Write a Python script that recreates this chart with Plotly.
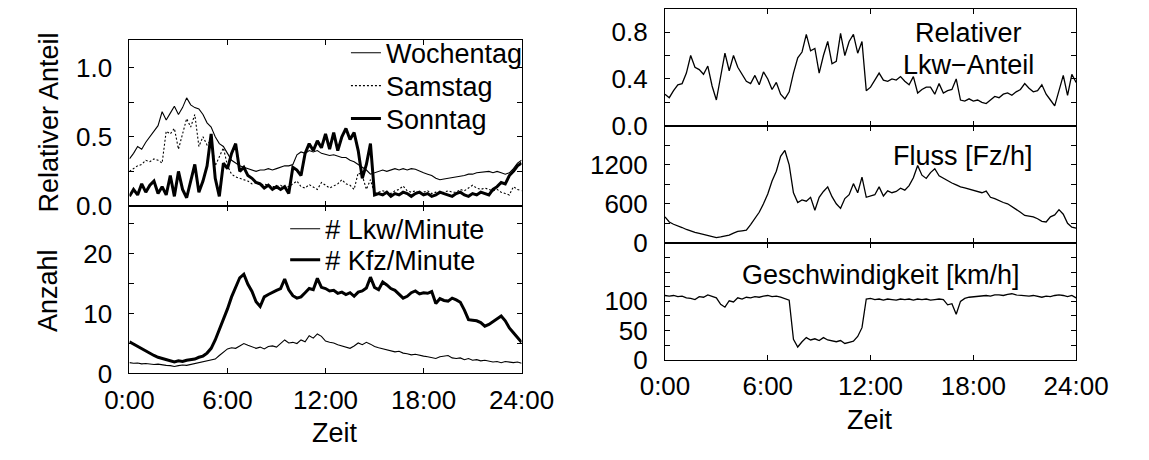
import numpy as np
import plotly.graph_objects as go

FONT = "Liberation Sans, Arial, Helvetica, sans-serif"

HOUR_TICKS = [0, 6, 12, 18, 24]
HOUR_LABELS = ["0:00", "6:00", "12:00", "18:00", "24:00"]

# ---- left top: relative truck share (15-min resolution, 0:00 .. 24:00) ----
wochentag = [0.34, 0.38, 0.43, 0.41, 0.46, 0.50, 0.54, 0.58, 0.68, 0.62, 0.67, 0.72,
             0.66, 0.71, 0.78, 0.73, 0.71, 0.70, 0.66, 0.60, 0.57, 0.50, 0.45, 0.43,
             0.38, 0.33, 0.31, 0.29, 0.28, 0.27, 0.26, 0.25, 0.26, 0.26, 0.27, 0.26,
             0.27, 0.28, 0.29, 0.29, 0.30, 0.37, 0.39, 0.38, 0.40, 0.39, 0.40, 0.38,
             0.37, 0.365, 0.37, 0.36, 0.35, 0.35, 0.33, 0.32, 0.30, 0.28, 0.26, 0.23,
             0.24, 0.25, 0.26, 0.25, 0.26, 0.27, 0.26, 0.27, 0.26, 0.27, 0.265, 0.25,
             0.24, 0.23, 0.22, 0.20, 0.19, 0.195, 0.20, 0.20, 0.21, 0.21, 0.22, 0.23,
             0.23, 0.24, 0.245, 0.25, 0.25, 0.24, 0.25, 0.24, 0.23, 0.24, 0.27, 0.31, 0.33]
samstag = [0.25, 0.27, 0.29, 0.30, 0.33, 0.32, 0.34, 0.33, 0.31, 0.54, 0.52, 0.56,
           0.41, 0.52, 0.63, 0.57, 0.66, 0.43, 0.50, 0.44, 0.48, 0.29, 0.36, 0.42,
           0.29, 0.23, 0.21, 0.20, 0.19, 0.18, 0.16, 0.17, 0.15, 0.16, 0.15, 0.14,
           0.14, 0.15, 0.13, 0.14, 0.16, 0.18, 0.14, 0.13, 0.155, 0.14, 0.12, 0.17,
           0.15, 0.13, 0.145, 0.16, 0.19, 0.16, 0.15, 0.12, 0.24, 0.22, 0.12, 0.19,
           0.09, 0.10, 0.11, 0.10, 0.09, 0.11, 0.12, 0.145, 0.11, 0.10, 0.11, 0.09,
           0.10, 0.11, 0.09, 0.10, 0.09, 0.10, 0.11, 0.10, 0.10, 0.12, 0.11, 0.13,
           0.15, 0.13, 0.12, 0.13, 0.12, 0.11, 0.12, 0.10, 0.09, 0.08, 0.14, 0.12, 0.11]
sonntag = [0.07, 0.12, 0.08, 0.16, 0.10, 0.15, 0.18, 0.09, 0.14, 0.08, 0.22, 0.07,
           0.25, 0.12, 0.06, 0.18, 0.30, 0.10, 0.18, 0.29, 0.52, 0.20, 0.07, 0.31,
           0.27, 0.38, 0.45, 0.25, 0.28, 0.22, 0.20, 0.17, 0.16, 0.13, 0.15, 0.12,
           0.14, 0.12, 0.14, 0.09, 0.28, 0.26, 0.22, 0.38, 0.45, 0.40, 0.47, 0.42,
           0.52, 0.41, 0.53, 0.40, 0.50, 0.56, 0.48, 0.53, 0.40, 0.20, 0.30, 0.45,
           0.08, 0.09, 0.08, 0.10, 0.07, 0.09, 0.08, 0.10, 0.09, 0.07, 0.09, 0.10,
           0.08, 0.09, 0.07, 0.08, 0.10, 0.09, 0.08, 0.07, 0.09, 0.10, 0.08, 0.07,
           0.09, 0.08, 0.10, 0.09, 0.08, 0.12, 0.14, 0.17, 0.16, 0.22, 0.25, 0.29, 0.31]

# ---- left bottom: counts per minute ----
lkw_pro_minute = [1.8, 1.7, 1.75, 1.6, 1.65, 1.55, 1.5, 1.55, 1.4, 1.35, 1.3, 1.15,
                  1.3, 1.4, 1.35, 1.5, 1.6, 1.7, 1.9, 2.0, 2.2, 2.4, 3.0, 3.5,
                  4.1, 4.3, 4.2, 4.6, 5.0, 4.7, 4.5, 4.2, 4.4, 4.1, 4.5, 4.6,
                  4.4, 5.0, 5.6, 5.1, 5.2, 5.0, 5.6, 5.3, 6.3, 5.9, 6.6, 6.2,
                  5.4, 5.2, 5.1, 4.8, 4.6, 4.4, 4.2, 4.6, 5.1, 4.8, 5.2, 4.9,
                  4.5, 4.3, 4.1, 3.9, 3.8, 3.6, 3.7, 3.4, 3.3, 3.1, 3.2, 3.0,
                  2.9, 2.8, 2.6, 2.5, 2.8, 2.9, 3.0, 2.6, 2.5, 2.6, 2.3, 2.5,
                  2.2, 2.3, 2.1, 2.2, 2.0, 1.9, 2.0, 1.8, 2.0, 1.9, 1.8, 1.9, 1.7]
kfz_pro_minute = [5.3, 4.9, 4.5, 4.1, 3.7, 3.3, 3.0, 2.7, 2.5, 2.2, 2.0, 1.9,
                  2.1, 2.0, 2.2, 2.3, 2.4, 2.7, 2.9, 3.4, 4.2, 5.6, 7.3, 9.2,
                  10.8, 12.8, 14.3, 16.0, 16.6, 14.9, 13.7, 12.0, 11.2, 12.8, 13.2, 13.6,
                  13.9, 14.2, 15.8, 14.0, 13.0, 12.6, 12.8, 13.5, 14.2, 14.0, 15.9, 14.4,
                  14.2, 13.8, 13.9, 13.4, 13.6, 13.2, 13.5, 12.9, 13.6, 13.8, 14.3, 16.1,
                  14.4, 14.0, 15.3, 14.8, 14.2, 13.9, 13.2, 12.6, 12.9, 13.5, 13.8, 13.3,
                  13.5, 13.4, 13.7, 11.7, 12.5, 12.2, 12.1, 12.6, 12.3, 11.9, 10.6, 9.0,
                  8.9, 8.8, 8.5, 7.9, 8.2, 8.7, 9.2, 9.6, 8.8, 7.6, 6.8, 5.9, 5.2]

# ---- right column ----
lkw_anteil = [0.27, 0.24, 0.30, 0.35, 0.36, 0.45, 0.60, 0.50, 0.48, 0.44, 0.51, 0.34,
              0.22, 0.43, 0.62, 0.47, 0.60, 0.50, 0.44, 0.38, 0.36, 0.43, 0.35, 0.46,
              0.40, 0.31, 0.37, 0.27, 0.23, 0.29, 0.45, 0.58, 0.63, 0.78, 0.64, 0.66,
              0.45, 0.60, 0.72, 0.53, 0.55, 0.79, 0.60, 0.72, 0.78, 0.62, 0.72, 0.30,
              0.33, 0.39, 0.45, 0.39, 0.38, 0.40, 0.39, 0.42, 0.38, 0.35, 0.42, 0.28,
              0.31, 0.33, 0.33, 0.27, 0.36, 0.28, 0.30, 0.31, 0.40, 0.22, 0.21, 0.23,
              0.21, 0.22, 0.20, 0.19, 0.22, 0.25, 0.24, 0.27, 0.28, 0.26, 0.29, 0.31,
              0.36, 0.32, 0.29, 0.30, 0.35, 0.27, 0.22, 0.17, 0.30, 0.43, 0.26, 0.44, 0.37]
fluss = [400, 320, 285, 265, 235, 205, 180, 160, 145, 130, 110, 90,
         80, 90, 100, 120, 150, 175, 185, 195, 280, 370, 470, 600,
         750, 950, 1100, 1330, 1420, 1200, 770, 620, 660, 640, 700, 500,
         700, 790, 860, 710, 600, 530, 680, 740, 910, 770, 1010, 700,
         720, 740, 860, 720, 800, 770, 790, 840, 810, 880, 1000, 1190,
         1040, 990, 1080, 1140, 1030, 990, 960, 920, 890, 860, 845, 825,
         810, 780, 770, 795, 700, 680, 645, 620, 600, 560, 510, 470,
         420, 410, 400, 370, 330, 320, 400, 430, 510, 440, 300, 240, 225]
geschwindigkeit = [110, 109, 110, 108, 109, 106, 105, 103, 108, 107, 111, 108,
                   106, 95, 90, 101, 99, 106, 104, 107, 106, 108, 107, 109,
                   110, 108, 109, 107, 105, 102, 35, 22, 31, 38, 34, 36,
                   33, 38, 34, 32, 31, 33, 28, 30, 32, 40, 55, 104,
                   105, 103, 104, 102, 104, 103, 102, 104, 103, 104, 102, 104,
                   103, 104, 102, 103, 104, 103, 94, 96, 78, 100, 105, 107,
                   108, 108, 109, 110, 109, 111, 111, 110, 112, 113, 111, 110,
                   110, 109, 110, 108, 107, 109, 108, 110, 111, 110, 108, 110, 106]


def hours(series):
    return np.linspace(0, 24, len(series))


W, H = 1149, 460


def px_x(p):
    return p / W


def px_y(p):
    return 1 - p / H


fig = go.Figure()
BLACK = "black"
TEXT_SIZE = 27
TICK_SIZE = 26

# left top
fig.add_trace(go.Scatter(x=hours(wochentag), y=wochentag, mode="lines", name="Wochentag",
                         line=dict(color=BLACK, width=1.1), xaxis="x", yaxis="y", legend="legend"))
fig.add_trace(go.Scatter(x=hours(samstag), y=samstag, mode="lines", name="Samstag",
                         line=dict(color=BLACK, width=1.1, dash="2px,2px"), xaxis="x", yaxis="y",
                         legend="legend2"))
fig.add_trace(go.Scatter(x=hours(sonntag), y=sonntag, mode="lines", name="Sonntag",
                         line=dict(color=BLACK, width=3), xaxis="x", yaxis="y", legend="legend3"))
# left bottom
fig.add_trace(go.Scatter(x=hours(lkw_pro_minute), y=lkw_pro_minute, mode="lines", name="# Lkw/Minute",
                         line=dict(color=BLACK, width=1.1), xaxis="x2", yaxis="y2", legend="legend4"))
fig.add_trace(go.Scatter(x=hours(kfz_pro_minute), y=kfz_pro_minute, mode="lines", name="# Kfz/Minute",
                         line=dict(color=BLACK, width=3), xaxis="x2", yaxis="y2", legend="legend5"))
# right
fig.add_trace(go.Scatter(x=hours(lkw_anteil), y=lkw_anteil, mode="lines", showlegend=False,
                         line=dict(color=BLACK, width=1.3), xaxis="x3", yaxis="y3"))
fig.add_trace(go.Scatter(x=hours(fluss), y=fluss, mode="lines", showlegend=False,
                         line=dict(color=BLACK, width=1.3), xaxis="x4", yaxis="y4"))
fig.add_trace(go.Scatter(x=hours(geschwindigkeit), y=geschwindigkeit, mode="lines", showlegend=False,
                         line=dict(color=BLACK, width=1.3), xaxis="x5", yaxis="y5"))

TICKFONT = dict(family=FONT, size=TICK_SIZE, color=BLACK)

LEFT_X = [px_x(110), px_x(523)]
RIGHT_X = [px_x(674), px_x(1107)]


def xaxis(domain, anchor, labels):
    return dict(domain=domain, anchor=anchor, range=[0, 24], tickvals=HOUR_TICKS,
                ticktext=HOUR_LABELS, showticklabels=labels, ticks="inside", ticklen=5,
                tickcolor=BLACK, showline=True, linecolor=BLACK, linewidth=1,
                mirror="allticks", showgrid=False, zeroline=False, tickfont=TICKFONT,
                ticklabelstandoff=3)


def yaxis(domain, anchor, rng, vals, text):
    return dict(domain=domain, anchor=anchor, range=rng, tickvals=vals, ticktext=text,
                ticks="inside", ticklen=5, tickcolor=BLACK, showline=True, linecolor=BLACK,
                linewidth=1, mirror="allticks", showgrid=False, zeroline=False,
                tickfont=TICKFONT, ticklabelstandoff=11)


LEGEND_FONT = dict(family=FONT, size=TEXT_SIZE, color=BLACK)


def legend_at(x_px, y_px):
    return dict(x=px_x(x_px), xanchor="left", y=px_y(y_px), yanchor="middle",
                bgcolor="rgba(0,0,0,0)", font=LEGEND_FONT, itemwidth=30)


fig.update_layout(
    width=W, height=H, margin=dict(l=0, r=0, t=0, b=0),
    paper_bgcolor="white", plot_bgcolor="white",
    font=dict(family=FONT, size=TEXT_SIZE, color=BLACK),
    xaxis=xaxis(LEFT_X, "y", False),
    yaxis=yaxis([px_y(213), px_y(41)], "x", [0, 1.2],
                [0, 0.25, 0.5, 0.75, 1.0], ["0.0", "", "0.5", "", "1.0"]),
    xaxis2=xaxis(LEFT_X, "y2", True),
    yaxis2=yaxis([px_y(386), px_y(213)], "x2", [0, 28],
                 [0, 5, 10, 15, 20, 25], ["0", "", "10", "", "20", ""]),
    xaxis3=xaxis(RIGHT_X, "y3", False),
    yaxis3=yaxis([px_y(130), px_y(9)], "x3", [0, 1.0],
                 [0, 0.2, 0.4, 0.6, 0.8], ["0.0", "", "0.4", "", "0.8"]),
    xaxis4=xaxis(RIGHT_X, "y4", False),
    yaxis4=yaxis([px_y(251), px_y(130)], "x4", [0, 1800],
                 [0, 300, 600, 900, 1200, 1500], ["0", "", "600", "", "1200", ""]),
    xaxis5=xaxis(RIGHT_X, "y5", True),
    yaxis5=yaxis([px_y(372), px_y(251)], "x5", [0, 200],
                 [0, 25, 50, 75, 100, 125, 150, 175], ["0", "", "50", "", "100", "", "", ""]),
    legend=legend_at(338, 55),
    legend2=legend_at(338, 89),
    legend3=legend_at(338, 123),
    legend4=legend_at(274, 237),
    legend5=legend_at(274, 269),
    showlegend=True,
)

ann = [
    dict(text="Relativer", x=px_x(994), y=px_y(34)),
    dict(text="Lkw\u2212Anteil", x=px_x(994), y=px_y(67)),
    dict(text="Fluss [Fz/h]", x=px_x(988), y=px_y(161)),
    dict(text="Geschwindigkeit [km/h]", x=px_x(902), y=px_y(284)),
    dict(text="Zeit", x=px_x(327), y=px_y(448)),
    dict(text="Zeit", x=px_x(890), y=px_y(434)),
    dict(text="Relativer Anteil", x=px_x(25), y=px_y(127), textangle=-90),
    dict(text="Anzahl", x=px_x(24), y=px_y(300), textangle=-90),
]
for a in ann:
    fig.add_annotation(xref="paper", yref="paper", showarrow=False, xanchor="center",
                       yanchor="middle", font=dict(family=FONT, size=TEXT_SIZE, color=BLACK), **a)

fig.write_html("out.html")
